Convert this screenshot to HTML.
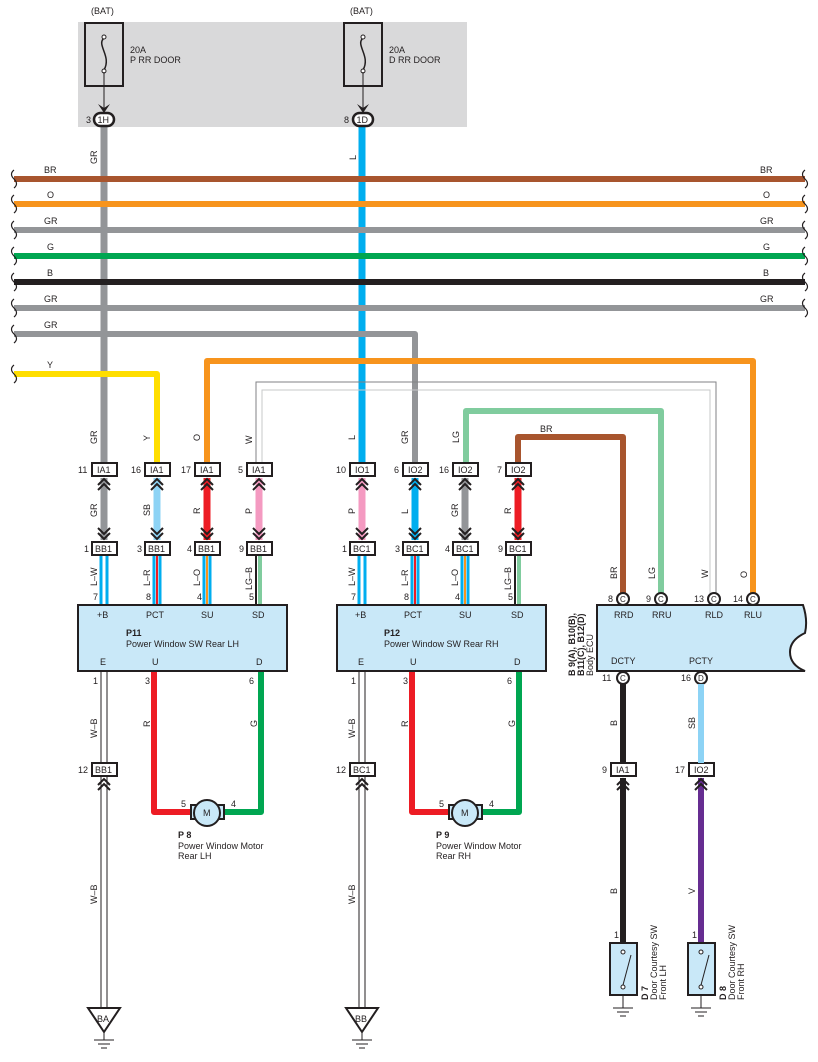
<!DOCTYPE html><html><head><meta charset="utf-8"><style>body{margin:0;background:#fff}svg{display:block;font-family:"Liberation Sans",sans-serif}</style></head><body>
<svg width="818" height="1062" viewBox="0 0 818 1062" xmlns="http://www.w3.org/2000/svg">
<defs>
<g id="cu"><polyline points="-6,7 0,1 6,7" fill="none" stroke="#231f20" stroke-width="2"/><polyline points="-6,12 0,6 6,12" fill="none" stroke="#231f20" stroke-width="2"/></g>
<g id="cd"><polyline points="-6,-7 0,-1 6,-7" fill="none" stroke="#231f20" stroke-width="2"/><polyline points="-6,-12 0,-6 6,-12" fill="none" stroke="#231f20" stroke-width="2"/></g>
<g id="gnd"><line x1="-10" y1="0" x2="10" y2="0" stroke="#231f20" stroke-width="1"/><line x1="-6" y1="4" x2="6" y2="4" stroke="#231f20"/><line x1="-3" y1="8" x2="3" y2="8" stroke="#231f20"/></g>
</defs>
<g font-size="9" fill="#231f20">
<rect x="78" y="22" width="389" height="105" fill="#d9d9da"/>
<text x="91" y="14">(BAT)</text><text x="350" y="14">(BAT)</text>
<rect x="85" y="23" width="38" height="63" fill="#d9d9da" stroke="#231f20" stroke-width="2"/>
<rect x="344" y="23" width="38" height="63" fill="#d9d9da" stroke="#231f20" stroke-width="2"/>
<path d="M104,38 C96,45 112,56 104,70" fill="none" stroke="#231f20" stroke-width="1.5"/>
<path d="M363,38 C355,45 371,56 363,70" fill="none" stroke="#231f20" stroke-width="1.5"/>
<circle cx="104" cy="37" r="2" fill="#fff" stroke="#231f20"/><circle cx="104" cy="71" r="2" fill="#fff" stroke="#231f20"/>
<circle cx="363" cy="37" r="2" fill="#fff" stroke="#231f20"/><circle cx="363" cy="71" r="2" fill="#fff" stroke="#231f20"/>
<text x="130" y="53">20A</text><text x="130" y="63">P RR DOOR</text>
<text x="389" y="53">20A</text><text x="389" y="63">D RR DOOR</text>
<line x1="104" y1="72" x2="104" y2="108" stroke="#231f20"/><polygon points="98,104 104,113 110,104 104,108" fill="#231f20"/>
<line x1="363" y1="72" x2="363" y2="108" stroke="#231f20"/><polygon points="357,104 363,113 369,104 363,108" fill="#231f20"/>
<line x1="104" y1="126" x2="104" y2="463" stroke="#939598" stroke-width="7"/>
<line x1="362" y1="126" x2="362" y2="463" stroke="#00aeef" stroke-width="7"/>
<rect x="94" y="113" width="20" height="13" rx="6.5" fill="#fff" stroke="#231f20" stroke-width="2.5"/><text x="97.5" y="123">1H</text><text x="86" y="123">3</text>
<rect x="353" y="113" width="20" height="13" rx="6.5" fill="#fff" stroke="#231f20" stroke-width="2.5"/><text x="356.5" y="123">1D</text><text x="344" y="123">8</text>
<text transform="translate(97,164) rotate(-90)">GR</text><text transform="translate(356,160) rotate(-90)">L</text>
<g fill="none" stroke-width="6" stroke-linejoin="round">
<path d="M14,179H805" stroke="#a8552e"/><path d="M14,204H805" stroke="#f7941d"/>
<path d="M14,230H805" stroke="#939598"/><path d="M14,256H805" stroke="#00a651"/>
<path d="M14,282H805" stroke="#231f20"/><path d="M14,308H805" stroke="#939598"/>
<path d="M14,334H415V463" stroke="#939598"/><path d="M14,374H157V463" stroke="#ffde00"/>
<path d="M207,463V361H753V595" stroke="#f7941d"/>
<path d="M466,463V411H661V595" stroke="#80cc9e"/>
<path d="M518,463V437H623V595" stroke="#a8552e"/>
</g>
<path d="M256,463V382H716V595" fill="none" stroke="#808285" stroke-width="1"/>
<path d="M262,463V390H710V595" fill="none" stroke="#c7c8ca" stroke-width="1"/>
<g fill="none" stroke="#231f20" stroke-width="1.2">
<path d="M14,170 q-5,4 0,9 q5,5 0,9"/><path d="M14,195 q-5,4 0,9 q5,5 0,9"/><path d="M14,221 q-5,4 0,9 q5,5 0,9"/><path d="M14,247 q-5,4 0,9 q5,5 0,9"/><path d="M14,273 q-5,4 0,9 q5,5 0,9"/><path d="M14,299 q-5,4 0,9 q5,5 0,9"/><path d="M14,325 q-5,4 0,9 q5,5 0,9"/><path d="M14,365 q-5,4 0,9 q5,5 0,9"/>
<path d="M805,170 q-5,4 0,9 q5,5 0,9"/><path d="M805,195 q-5,4 0,9 q5,5 0,9"/><path d="M805,221 q-5,4 0,9 q5,5 0,9"/><path d="M805,247 q-5,4 0,9 q5,5 0,9"/><path d="M805,273 q-5,4 0,9 q5,5 0,9"/><path d="M805,299 q-5,4 0,9 q5,5 0,9"/>
</g>
<text x="44" y="173">BR</text><text x="47" y="198">O</text><text x="44" y="224">GR</text><text x="47" y="250">G</text><text x="47" y="276">B</text><text x="44" y="302">GR</text><text x="44" y="328">GR</text><text x="47" y="368">Y</text>
<text x="760" y="173">BR</text><text x="763" y="198">O</text><text x="760" y="224">GR</text><text x="763" y="250">G</text><text x="763" y="276">B</text><text x="760" y="302">GR</text>
<text x="540" y="432">BR</text>
<text transform="translate(97,444) rotate(-90)">GR</text><text transform="translate(150,441) rotate(-90)">Y</text><text transform="translate(200,441) rotate(-90)">O</text><text transform="translate(252,444) rotate(-90)">W</text>
<text transform="translate(355,440) rotate(-90)">L</text><text transform="translate(408,444) rotate(-90)">GR</text><text transform="translate(459,443) rotate(-90)">LG</text>
<g stroke-width="7">
<line x1="104" y1="478" x2="104" y2="540" stroke="#939598"/><line x1="157" y1="478" x2="157" y2="540" stroke="#8dd3f5"/>
<line x1="207" y1="478" x2="207" y2="540" stroke="#ed1c24"/><line x1="259" y1="478" x2="259" y2="540" stroke="#f49ac1"/>
<line x1="362" y1="478" x2="362" y2="540" stroke="#f49ac1"/><line x1="415" y1="478" x2="415" y2="540" stroke="#00aeef"/>
<line x1="465" y1="478" x2="465" y2="540" stroke="#939598"/><line x1="518" y1="478" x2="518" y2="540" stroke="#ed1c24"/>
</g>
<g>
<use href="#cu" x="104" y="478"/><use href="#cu" x="157" y="478"/><use href="#cu" x="207" y="478"/><use href="#cu" x="259" y="478"/>
<use href="#cu" x="362" y="478"/><use href="#cu" x="415" y="478"/><use href="#cu" x="465" y="478"/><use href="#cu" x="518" y="478"/>
<use href="#cd" x="104" y="540"/><use href="#cd" x="157" y="540"/><use href="#cd" x="207" y="540"/><use href="#cd" x="259" y="540"/>
<use href="#cd" x="362" y="540"/><use href="#cd" x="415" y="540"/><use href="#cd" x="465" y="540"/><use href="#cd" x="518" y="540"/>
</g>
<text transform="translate(97,517) rotate(-90)">GR</text><text transform="translate(150,516) rotate(-90)">SB</text><text transform="translate(200,514) rotate(-90)">R</text><text transform="translate(252,514) rotate(-90)">P</text>
<text transform="translate(355,514) rotate(-90)">P</text><text transform="translate(408,514) rotate(-90)">L</text><text transform="translate(458,517) rotate(-90)">GR</text><text transform="translate(511,514) rotate(-90)">R</text>
<g stroke-width="2">
<path d="M101,555V605" stroke="#00aeef" stroke-width="3"/><path d="M107,555V605" stroke="#00aeef" stroke-width="3"/>
<path d="M154,555V605" stroke="#00aeef" stroke-width="3"/><path d="M157,555V605" stroke="#ed1c24"/><path d="M160,555V605" stroke="#00aeef" stroke-width="3"/>
<path d="M204,555V605" stroke="#00aeef" stroke-width="3"/><path d="M207,555V605" stroke="#f7941d"/><path d="M210,555V605" stroke="#00aeef" stroke-width="3"/>
<path d="M256,555V605" stroke="#231f20"/><path d="M260,555V605" stroke="#80cc9e" stroke-width="4"/>
<path d="M359,555V605" stroke="#00aeef" stroke-width="3"/><path d="M365,555V605" stroke="#00aeef" stroke-width="3"/>
<path d="M412,555V605" stroke="#00aeef" stroke-width="3"/><path d="M415,555V605" stroke="#ed1c24"/><path d="M418,555V605" stroke="#00aeef" stroke-width="3"/>
<path d="M462,555V605" stroke="#00aeef" stroke-width="3"/><path d="M465,555V605" stroke="#f7941d"/><path d="M468,555V605" stroke="#00aeef" stroke-width="3"/>
<path d="M515,555V605" stroke="#231f20"/><path d="M519,555V605" stroke="#80cc9e" stroke-width="4"/>
</g>
<text transform="translate(97,586) rotate(-90)">L–W</text><text transform="translate(150,586) rotate(-90)">L–R</text><text transform="translate(200,586) rotate(-90)">L–O</text><text transform="translate(252,590) rotate(-90)">LG–B</text>
<text transform="translate(355,586) rotate(-90)">L–W</text><text transform="translate(408,586) rotate(-90)">L–R</text><text transform="translate(458,586) rotate(-90)">L–O</text><text transform="translate(511,590) rotate(-90)">LG–B</text>
<text x="93" y="600">7</text><text x="146" y="600">8</text><text x="197" y="600">4</text><text x="249" y="600">5</text>
<text x="351" y="600">7</text><text x="404" y="600">8</text><text x="455" y="600">4</text><text x="508" y="600">5</text>
<!-- ground double lines (drawn before boxes) -->
<g fill="none" stroke="#231f20" stroke-width="1">
<path d="M101,672V1008M107,672V1008M359,672V1008M365,672V1008"/>
</g>
<rect x="102" y="672" width="4" height="336" fill="#fff"/><rect x="360" y="672" width="4" height="336" fill="#fff"/>
<g fill="#fff" stroke="#231f20" stroke-width="2">
<rect x="92" y="463" width="25" height="13"/><rect x="145" y="463" width="25" height="13"/><rect x="195" y="463" width="25" height="13"/><rect x="247" y="463" width="25" height="13"/>
<rect x="350" y="463" width="25" height="13"/><rect x="403" y="463" width="25" height="13"/><rect x="453" y="463" width="25" height="13"/><rect x="506" y="463" width="25" height="13"/>
<rect x="92" y="542" width="25" height="13"/><rect x="145" y="542" width="25" height="13"/><rect x="195" y="542" width="25" height="13"/><rect x="247" y="542" width="25" height="13"/>
<rect x="350" y="542" width="25" height="13"/><rect x="403" y="542" width="25" height="13"/><rect x="453" y="542" width="25" height="13"/><rect x="506" y="542" width="25" height="13"/>
<rect x="92" y="763" width="25" height="13"/><rect x="350" y="763" width="25" height="13"/><rect x="611" y="763" width="25" height="13"/><rect x="689" y="763" width="25" height="13"/>
</g>
<text x="97" y="473">IA1</text><text x="150" y="473">IA1</text><text x="200" y="473">IA1</text><text x="252" y="473">IA1</text>
<text x="355" y="473">IO1</text><text x="408" y="473">IO2</text><text x="458" y="473">IO2</text><text x="511" y="473">IO2</text>
<text x="95" y="552">BB1</text><text x="148" y="552">BB1</text><text x="198" y="552">BB1</text><text x="250" y="552">BB1</text>
<text x="353" y="552">BC1</text><text x="406" y="552">BC1</text><text x="456" y="552">BC1</text><text x="509" y="552">BC1</text>
<text x="95" y="773">BB1</text><text x="353" y="773">BC1</text><text x="616" y="773">IA1</text><text x="694" y="773">IO2</text>
<text x="78" y="473">11</text><text x="131" y="473">16</text><text x="181" y="473">17</text><text x="238" y="473">5</text>
<text x="336" y="473">10</text><text x="394" y="473">6</text><text x="439" y="473">16</text><text x="497" y="473">7</text>
<text x="84" y="552">1</text><text x="137" y="552">3</text><text x="187" y="552">4</text><text x="239" y="552">9</text>
<text x="342" y="552">1</text><text x="395" y="552">3</text><text x="445" y="552">4</text><text x="498" y="552">9</text>
<text x="78" y="773">12</text><text x="336" y="773">12</text><text x="602" y="773">9</text><text x="675" y="773">17</text>
<rect x="78" y="605" width="209" height="66" fill="#c9e8f8" stroke="#231f20" stroke-width="2"/>
<rect x="337" y="605" width="209" height="66" fill="#c9e8f8" stroke="#231f20" stroke-width="2"/>
<text x="97" y="618">+B</text><text x="146" y="618">PCT</text><text x="201" y="618">SU</text><text x="252" y="618">SD</text>
<text x="355" y="618">+B</text><text x="404" y="618">PCT</text><text x="459" y="618">SU</text><text x="511" y="618">SD</text>
<text x="126" y="636" font-weight="bold">P11</text><text x="126" y="647">Power Window SW Rear LH</text>
<text x="384" y="636" font-weight="bold">P12</text><text x="384" y="647">Power Window SW Rear RH</text>
<text x="100" y="665">E</text><text x="152" y="665">U</text><text x="256" y="665">D</text>
<text x="358" y="665">E</text><text x="410" y="665">U</text><text x="514" y="665">D</text>
<use href="#cu" x="104" y="778"/><use href="#cu" x="362" y="778"/>
<polygon points="88,1008 120,1008 104,1032" fill="#fff" stroke="#231f20" stroke-width="2"/><text x="97" y="1022">BA</text>
<polygon points="346,1008 378,1008 362,1032" fill="#fff" stroke="#231f20" stroke-width="2"/><text x="355" y="1022">BB</text>
<line x1="104" y1="1032" x2="104" y2="1040" stroke="#231f20"/><use href="#gnd" x="104" y="1040"/>
<line x1="362" y1="1032" x2="362" y2="1040" stroke="#231f20"/><use href="#gnd" x="362" y="1040"/>
<text x="93" y="684">1</text><text x="351" y="684">1</text>
<text transform="translate(97,738) rotate(-90)">W–B</text><text transform="translate(355,738) rotate(-90)">W–B</text>
<text transform="translate(97,904) rotate(-90)">W–B</text><text transform="translate(355,904) rotate(-90)">W–B</text>
<g fill="none" stroke-width="6" stroke-linejoin="round">
<path d="M154,672V812H193" stroke="#ed1c24"/><path d="M221,812H261V672" stroke="#00a651"/>
<path d="M412,672V812H451" stroke="#ed1c24"/><path d="M479,812H519V672" stroke="#00a651"/>
</g>
<text x="145" y="684">3</text><text x="249" y="684">6</text><text x="403" y="684">3</text><text x="507" y="684">6</text>
<text transform="translate(150,727) rotate(-90)">R</text><text transform="translate(257,727) rotate(-90)">G</text>
<text transform="translate(408,727) rotate(-90)">R</text><text transform="translate(515,727) rotate(-90)">G</text>
<rect x="191" y="805" width="33" height="14" fill="#c9e8f8" stroke="#231f20" stroke-width="2"/>
<circle cx="207" cy="813" r="13" fill="#c9e8f8" stroke="#231f20" stroke-width="2"/><text x="203" y="816">M</text>
<rect x="449" y="805" width="33" height="14" fill="#c9e8f8" stroke="#231f20" stroke-width="2"/>
<circle cx="465" cy="813" r="13" fill="#c9e8f8" stroke="#231f20" stroke-width="2"/><text x="461" y="816">M</text>
<text x="181" y="807">5</text><text x="231" y="807">4</text><text x="439" y="807">5</text><text x="489" y="807">4</text>
<text x="178" y="838" font-weight="bold">P 8</text><text x="178" y="849">Power Window Motor</text><text x="178" y="859">Rear LH</text>
<text x="436" y="838" font-weight="bold">P 9</text><text x="436" y="849">Power Window Motor</text><text x="436" y="859">Rear RH</text>
<path d="M597,605H803Q808,620 805,633Q790,640 790,652Q790,665 805,671H597Z" fill="#c9e8f8" stroke="#231f20" stroke-width="2"/>
<text x="614" y="618">RRD</text><text x="652" y="618">RRU</text><text x="705" y="618">RLD</text><text x="744" y="618">RLU</text>
<text x="611" y="664">DCTY</text><text x="689" y="664">PCTY</text>
<text transform="translate(575,676) rotate(-90)" font-weight="bold">B 9(A), B10(B),</text>
<text transform="translate(584,676) rotate(-90)" font-weight="bold">B11(C), B12(D)</text>
<text transform="translate(593,676) rotate(-90)">Body ECU</text>
<g fill="#fff" stroke="#231f20" stroke-width="2">
<circle cx="623" cy="599" r="6"/><circle cx="661" cy="599" r="6"/><circle cx="714" cy="599" r="6"/><circle cx="753" cy="599" r="6"/>
<circle cx="623" cy="678" r="6"/><circle cx="701" cy="678" r="6"/>
</g>
<g font-size="8"><text x="620" y="602">C</text><text x="658" y="602">C</text><text x="711" y="602">C</text><text x="750" y="602">C</text><text x="620" y="681">C</text><text x="698" y="681">D</text></g>
<text x="608" y="602">8</text><text x="646" y="602">9</text><text x="694" y="602">13</text><text x="733" y="602">14</text>
<text x="602" y="681">11</text><text x="681" y="681">16</text>
<text transform="translate(617,579) rotate(-90)">BR</text><text transform="translate(655,579) rotate(-90)">LG</text><text transform="translate(708,578) rotate(-90)">W</text><text transform="translate(747,578) rotate(-90)">O</text>
<line x1="623" y1="684" x2="623" y2="763" stroke="#231f20" stroke-width="6"/>
<line x1="701" y1="684" x2="701" y2="763" stroke="#8dd3f5" stroke-width="6"/>
<line x1="623" y1="778" x2="623" y2="943" stroke="#231f20" stroke-width="6"/>
<line x1="701" y1="778" x2="701" y2="943" stroke="#662d91" stroke-width="6"/>
<use href="#cu" x="623" y="778"/><use href="#cu" x="701" y="778"/>
<text transform="translate(617,726) rotate(-90)">B</text><text transform="translate(695,729) rotate(-90)">SB</text>
<text transform="translate(617,894) rotate(-90)">B</text><text transform="translate(695,894) rotate(-90)">V</text>
<text x="614" y="938">1</text><text x="692" y="938">1</text>
<rect x="610" y="943" width="27" height="52" fill="#c9e8f8" stroke="#231f20" stroke-width="2"/>
<rect x="688" y="943" width="27" height="52" fill="#c9e8f8" stroke="#231f20" stroke-width="2"/>
<g stroke="#231f20" fill="#fff"><circle cx="623" cy="952" r="2"/><circle cx="623" cy="987" r="2"/><line x1="623" y1="985" x2="631" y2="955"/>
<circle cx="701" cy="952" r="2"/><circle cx="701" cy="987" r="2"/><line x1="701" y1="985" x2="709" y2="955"/>
<line x1="623" y1="995" x2="623" y2="1008"/><line x1="701" y1="995" x2="701" y2="1008"/></g>
<use href="#gnd" x="623" y="1008"/><use href="#gnd" x="701" y="1008"/>
<text transform="translate(648,1000) rotate(-90)" font-weight="bold">D 7</text><text transform="translate(657,1000) rotate(-90)">Door Courtesy SW</text><text transform="translate(666,1000) rotate(-90)">Front LH</text>
<text transform="translate(726,1000) rotate(-90)" font-weight="bold">D 8</text><text transform="translate(735,1000) rotate(-90)">Door Courtesy SW</text><text transform="translate(744,1000) rotate(-90)">Front RH</text>
</g>
</svg>
</body></html>
